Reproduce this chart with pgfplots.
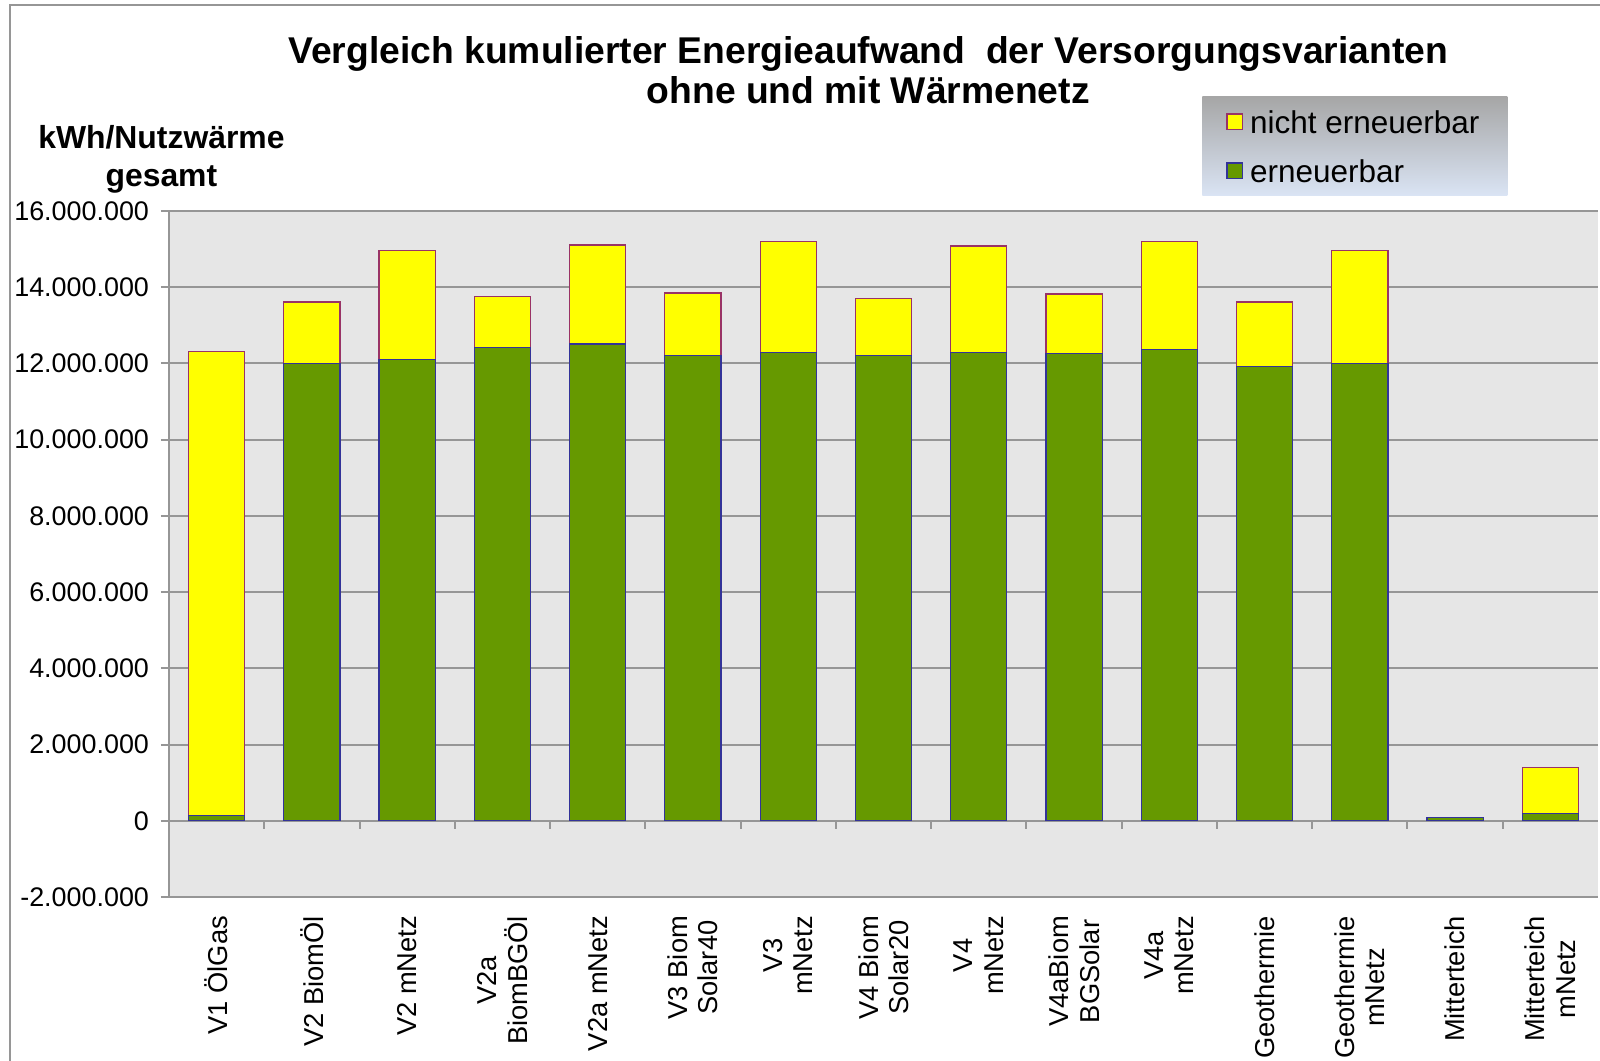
\documentclass[border=0pt]{standalone}
\usepackage{fontspec}
\setmainfont{Liberation Sans}
\usepackage{pgfplots}
\pgfplotsset{compat=1.18}

\definecolor{barGreen}{RGB}{102,153,0}
\definecolor{barYellow}{RGB}{255,255,0}
\definecolor{edgeGreen}{RGB}{51,51,153}
\definecolor{edgeYellow}{RGB}{153,51,102}
\definecolor{plotBg}{RGB}{230,230,230}
\definecolor{gridGray}{RGB}{150,150,150}
\definecolor{legTop}{RGB}{166,166,166}
\definecolor{legMid}{RGB}{194,207,230}
\definecolor{legBot}{RGB}{218,228,244}

\begin{document}
\begin{tikzpicture}
\useasboundingbox (-84.5bp,-82bp) rectangle (715.5bp,448.5bp);
\draw[gridGray, line width=1bp] (-79.5bp,-120bp) rectangle (760bp,446bp);
\begin{axis}[
  scale only axis, width=714.5bp, height=343bp,
  ybar stacked, bar width=0.59,
  xmin=-0.5, xmax=14.5,
  ymin=-2000000, ymax=16000000,
  axis background/.style={fill=plotBg},
  axis lines=left,
  axis line style={-, gridGray, line width=1bp},
  ymajorgrids, grid style={gridGray, line width=1bp},
  ytick={-2000000,0,2000000,4000000,6000000,8000000,10000000,12000000,14000000,16000000},
  scaled y ticks=false,
  tick align=outside,
  ytick style={gridGray, line width=1bp},
  major tick length=4bp,
  xtick style={draw=none},
  /pgf/number format/assume math mode=true,
  yticklabel style={xshift=-2.5bp, font=\fontsize{13.5}{16}\selectfont,
    /pgf/number format/.cd, fixed, precision=0, 1000 sep={.}},
  xtick={0,1,2,3,4,5,6,7,8,9,10,11,12,13,14},
  xticklabels={V1 ÖlGas, V2 BiomÖl, V2 mNetz, {V2a\\BiomBGÖl}, V2a mNetz,
    {V3 Biom\\Solar40}, {V3\\mNetz}, {V4 Biom\\Solar20}, {V4\\mNetz},
    {V4aBiom\\BGSolar}, {V4a\\mNetz}, Geothermie, {Geothermie\\mNetz},
    Mitterteich, {Mitterteich\\mNetz}},
  xticklabel style={yshift=-2bp, rotate=90, anchor=east, align=center,
    font=\fontsize{13.7}{15.3}\selectfont},
  reverse legend,
  legend cell align=left,
  legend image code/.code={
    \draw[#1, line width=0.6bp] (0bp,-3.8bp) rectangle (7.6bp,3.8bp);
    \path[draw=none, fill=none] (0bp,0bp) -- (9.6bp,0bp);},
  legend style={at={(0.7229,1.0219)}, anchor=south west, draw=none,
    top color=legTop, middle color=legMid, bottom color=legBot,
    inner xsep=12bp, inner ysep=6.75bp, row sep=13bp,
    font=\fontsize{15.8}{19}\selectfont,
    nodes={text height=11.5bp, text depth=0bp, inner ysep=0bp}},
]
\addplot[fill=barGreen, draw=edgeGreen, line width=0.6bp] coordinates {
  (0,130000) (1,12000000) (2,12100000) (3,12410000) (4,12510000)
  (5,12210000) (6,12290000) (7,12210000) (8,12290000) (9,12270000)
  (10,12370000) (11,11920000) (12,12000000) (13,80000) (14,190000)};
\addplot[fill=barYellow, draw=edgeYellow, line width=0.6bp] coordinates {
  (0,12190000) (1,1610000) (2,2870000) (3,1340000) (4,2600000)
  (5,1640000) (6,2920000) (7,1500000) (8,2790000) (9,1550000)
  (10,2820000) (11,1690000) (12,2970000) (13,0) (14,1200000)};
\legend{erneuerbar, nicht erneuerbar}
\pgfplotsinvokeforeach{0,...,13}{
  \draw[gridGray, line width=1bp] (axis cs:#1.5,0) -- ([yshift=-4bp]axis cs:#1.5,0);
}
\end{axis}
\node[anchor=base, font=\bfseries\fontsize{18.7}{22}\selectfont] at (349.6bp,416.8bp)
  {Vergleich kumulierter Energieaufwand\ \ der Versorgungsvarianten};
\node[anchor=base, font=\bfseries\fontsize{18.7}{22}\selectfont] at (349.6bp,396.5bp)
  {ohne und mit Wärmenetz};
\node[anchor=base, font=\bfseries\fontsize{16}{19}\selectfont] at (-3.8bp,374bp) {kWh/Nutzwärme};
\node[anchor=base, font=\bfseries\fontsize{16}{19}\selectfont] at (-3.8bp,355.1bp) {gesamt};
\end{tikzpicture}
\end{document}
